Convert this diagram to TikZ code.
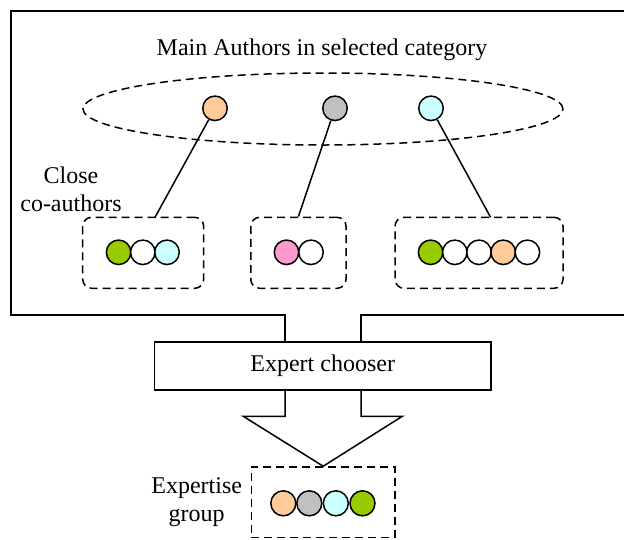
\documentclass[tikz,border=0pt]{standalone}
\usepackage{fontspec}
\setmainfont{Liberation Serif}
\usetikzlibrary{shapes.geometric}
\definecolor{cpeach}{HTML}{FFCC99}
\definecolor{cgray}{HTML}{C0C0C0}
\definecolor{ccyan}{HTML}{CCFFFF}
\definecolor{cgreen}{HTML}{99CC00}
\definecolor{cpink}{HTML}{FF99CC}
\begin{document}
\begin{tikzpicture}[x=1pt,y=-1pt,
  every node/.style={font=\fontsize{24}{28}\selectfont, inner sep=0pt},
  ln/.style={line width=1.5pt},
  dsh/.style={line width=1.5pt, dash pattern=on 8pt off 5pt},
  dot/.style={circle, draw, line width=1.5pt, minimum size=24.5pt, inner sep=0pt},
  cbox/.style={draw, dsh, rounded corners=9pt, minimum height=71pt},
]
\useasboundingbox (0,0) rectangle (624,539);

% outer frame
\coordinate (oTR) at (626,11);
\coordinate (oTL) at (11,11);
\coordinate (oBL) at (11,315);
\coordinate (sL) at (285,315);
\coordinate (sR) at (361,315);
\coordinate (oBR) at (626,315);

% expert chooser
\node[draw, ln, minimum width=336.7pt, minimum height=48pt] (chooser) at (322.7,366) {Expert chooser};
\draw[line width=2pt, line join=miter] (oTR) -- (oTL) -- (oBL) -- (sL) -- (sL |- chooser.north);
\draw[line width=2pt, line join=miter] (oBR) -- (sR) -- (sR |- chooser.north);

% title and ellipse
\node (title) at (322,50) {Main Authors in selected category};
\node[ellipse, draw, dsh, minimum width=480pt, minimum height=72pt] (cat) at (323,109) {};

% main authors
\node[dot, fill=cpeach] (m1) at (215,108.3) {};
\node[dot, fill=cgray] (m2) at (335,108.3) {};
\node[dot, fill=ccyan] (m3) at (431,108.3) {};

% co-author boxes
\node[cbox, minimum width=121pt] (b1) at (143.2,252.8) {};
\node[cbox, minimum width=95.3pt] (b2) at (298.4,252.8) {};
\node[cbox, minimum width=168pt] (b3) at (479,252.8) {};

\node[align=center] (close) at (71,189) {Close\\co-authors};

% connectors
\coordinate (e1) at (155,217.3);
\coordinate (e3) at (490.6,217.3);
\draw[ln] (m1) -- (e1);
\draw[ln] (m2) -- (b2.north);
\draw[ln] (m3) -- (e3);

% co-author circles
\node[dot, fill=cgreen] (c11) at (118.6,252.3) {};
\node[dot, fill=white] (c12) at (142.8,252.3) {};
\node[dot, fill=ccyan] (c13) at (167,252.3) {};

\node[dot, fill=cpink] (c21) at (286.5,252.3) {};
\node[dot, fill=white] (c22) at (311,252.3) {};

\node[dot, fill=cgreen] (c31) at (430.6,252.3) {};
\node[dot, fill=white] (c32) at (454.8,252.3) {};
\node[dot, fill=white] (c33) at (479,252.3) {};
\node[dot, fill=cpeach] (c34) at (503.2,252.3) {};
\node[dot, fill=white] (c35) at (527.4,252.3) {};

% big arrow
\coordinate (aL) at (285,416.3);
\coordinate (aR) at (361,416.3);
\coordinate (hL) at (243.3,416.3);
\coordinate (hR) at (402.3,416.3);
\node[draw, dsh, minimum width=143.7pt, minimum height=70.7pt] (grp) at (323.2,502.3) {};
\draw[ln, line join=miter] (sL |- chooser.south) -- (aL) -- (hL) -- (grp.north) -- (hR) -- (aR) -- (sR |- chooser.south);

% expertise group
\node[align=center] (exlab) at (196.7,502) {Expertise\\group};
\node[dot, minimum size=25pt, fill=cpeach] (g1) at (283.3,503.3) {};
\node[dot, minimum size=25pt, fill=cgray] (g2) at (309.3,503.3) {};
\node[dot, minimum size=25pt, fill=ccyan] (g3) at (335.8,503.3) {};
\node[dot, minimum size=25pt, fill=cgreen] (g4) at (362.5,503.3) {};
\end{tikzpicture}
\end{document}
